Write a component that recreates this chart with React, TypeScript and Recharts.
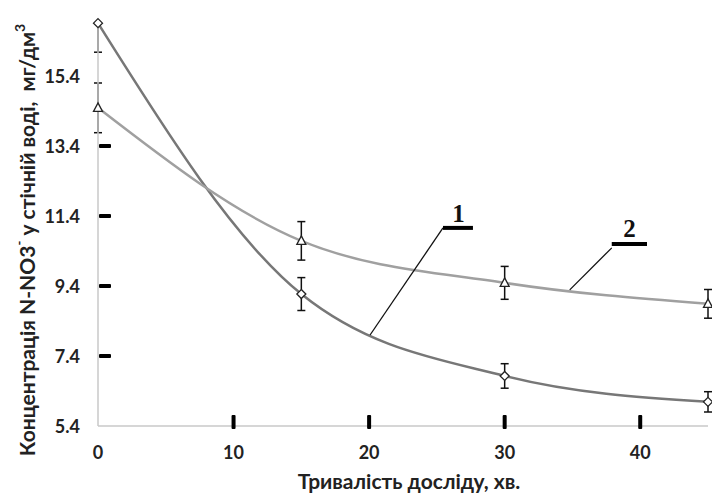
import React from 'react';
import { ComposedChart, Line, XAxis, YAxis, ErrorBar, ReferenceLine, ReferenceDot } from 'recharts';

const times = [0, 15, 30, 45];
const series1 = [16.91, 9.17, 6.83, 6.09];
// [minus, plus] error; the plus part at t=0 is cut off at the plot top in the reference
const series1Err = [[0.83, 0], [0.47, 0.47], [0.35, 0.35], [0.29, 0.29]];
const series2 = [14.49, 10.69, 9.49, 8.89];
const series2Err = [0.71, 0.55, 0.47, 0.41];
const xTicks = [0, 10, 20, 30, 40];
const yTicks = [5.4, 7.4, 9.4, 11.4, 13.4, 15.4];
const markedX = [10, 20, 30, 40];
const markedY = [7.4, 9.4, 11.4, 13.4];

const data = times.map((t, i) => ({
  t,
  s1: series1[i],
  e1: series1Err[i],
  s2: series2[i],
  e2: series2Err[i],
}));

const FONT = 'Lato, "Open Sans", sans-serif';

const YTick = (props: any) => {
  const { x, y, payload } = props;
  const v = payload.value;
  return (
    <g>
      {markedY.includes(v) && <rect x={x + 1} y={y - 2} width={12} height={4} rx={1} fill="#000" />}
      <text x={x - 18} y={y} textAnchor="end" dominantBaseline="central" fontFamily={FONT} fontWeight={700} fontSize={18} fill="#222">
        {v.toFixed(1)}
      </text>
    </g>
  );
};

const XTick = (props: any) => {
  const { x, y, payload } = props;
  const v = payload.value;
  return (
    <g>
      {markedX.includes(v) && <rect x={x - 2} y={y - 11} width={4} height={14} rx={1} fill="#000" />}
      <text x={x} y={y + 26} textAnchor="middle" dominantBaseline="central" fontFamily={FONT} fontWeight={700} fontSize={18} fill="#222">
        {v}
      </text>
    </g>
  );
};

const Diamond = (props: any) => {
  const { cx, cy } = props;
  if (cx == null || cy == null) return null;
  const r = 4.5;
  return <path d={`M${cx},${cy - r}L${cx + r},${cy}L${cx},${cy + r}L${cx - r},${cy}Z`} fill="#fff" stroke="#222" strokeWidth={1.3} />;
};

const Triangle = (props: any) => {
  const { cx, cy } = props;
  if (cx == null || cy == null) return null;
  return <path d={`M${cx},${cy - 5}L${cx + 4.5},${cy + 3.5}L${cx - 4.5},${cy + 3.5}Z`} fill="#fff" stroke="#222" strokeWidth={1.3} />;
};

const YTitle = () => (
  <text transform="rotate(-90, 26, 240)" x={26} y={240} textAnchor="middle" dominantBaseline="central" fontFamily={FONT} fontWeight={700} fontSize={21} fill="#222">
    Концентрація N-NO3<tspan dy={-7} fontSize={13}>-</tspan>
    <tspan dy={7}>{' у стічній воді,\u00a0 мг/дм'}</tspan>
    <tspan dy={-7} fontSize={14}>3</tspan>
  </text>
);

const XTitle = () => (
  <text x={409} y={480} textAnchor="middle" dominantBaseline="central" fontFamily={FONT} fontWeight={700} fontSize={21} fill="#222">
    Тривалість досліду, хв.
  </text>
);

const numLabel = (txt: string) => (p: any) => {
  const vb = p.viewBox || {};
  const x = vb.cx != null ? vb.cx : vb.x + (vb.width || 0) / 2;
  const y = vb.cy != null ? vb.cy : vb.y + (vb.height || 0) / 2;
  return (
    <text x={x} y={y} textAnchor="middle" fontFamily='"Liberation Serif", "DejaVu Serif", serif' fontWeight={700} fontSize={25} fill="#111">
      {txt}
    </text>
  );
};

export default function App() {
  return (
    <div style={{ position: 'absolute', left: 0, top: 0, width: 712, height: 494, background: '#fff' }}>
      <ComposedChart width={712} height={494} data={data} margin={{ top: 20, right: 4, left: 0, bottom: 0 }}>
        <XAxis
          dataKey="t"
          type="number"
          domain={[0, 45]}
          ticks={xTicks}
          height={68}
          tickSize={0}
          tickMargin={0}
          tickLine={false}
          axisLine={{ stroke: '#c8c8c8', strokeWidth: 1.5 }}
          tick={<XTick />}
          interval={0}
          label={{ content: () => <XTitle /> }}
        />
        <YAxis
          type="number"
          domain={[5.4, 17]}
          ticks={yTicks}
          width={98}
          tickSize={0}
          tickMargin={0}
          tickLine={false}
          axisLine={{ stroke: '#c8c8c8', strokeWidth: 1.5 }}
          tick={<YTick />}
          interval={0}
          label={{ content: () => <YTitle /> }}
        />
        <Line
          type="monotone"
          dataKey="s1"
          stroke="#777"
          strokeWidth={2.5}
          dot={<Diamond />}
          activeDot={false}
          isAnimationActive={false}
        >
          <ErrorBar dataKey="e1" width={4} stroke="#111" strokeWidth={1.5} direction="y" />
        </Line>
        <Line
          type="monotone"
          dataKey="s2"
          stroke="#a0a0a0"
          strokeWidth={2.5}
          dot={<Triangle />}
          activeDot={false}
          isAnimationActive={false}
        >
          <ErrorBar dataKey="e2" width={4} stroke="#111" strokeWidth={1.5} direction="y" />
        </Line>
        <ReferenceLine segment={[{ x: 20.07, y: 8.0 }, { x: 25.45, y: 11.06 }]} stroke="#111" strokeWidth={1.3} ifOverflow="visible" />
        <ReferenceLine segment={[{ x: 25.45, y: 11.06 }, { x: 27.66, y: 11.06 }]} stroke="#000" strokeWidth={4} ifOverflow="visible" />
        <ReferenceLine segment={[{ x: 34.8, y: 9.29 }, { x: 37.9, y: 10.49 }]} stroke="#111" strokeWidth={1.3} ifOverflow="visible" />
        <ReferenceLine segment={[{ x: 37.9, y: 10.6 }, { x: 40.5, y: 10.6 }]} stroke="#000" strokeWidth={4} ifOverflow="visible" />
        <ReferenceDot x={26.6} y={11.24} r={0} fill="none" stroke="none" ifOverflow="visible" label={{ content: numLabel('1') }} />
        <ReferenceDot x={39.2} y={10.8} r={0} fill="none" stroke="none" ifOverflow="visible" label={{ content: numLabel('2') }} />
      </ComposedChart>
    </div>
  );
}
